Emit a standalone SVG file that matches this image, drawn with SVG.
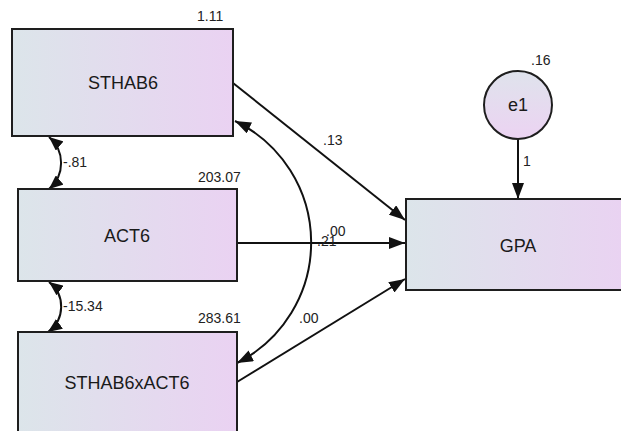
<svg xmlns="http://www.w3.org/2000/svg" width="621" height="431" viewBox="0 0 621 431">
  <style>
    .box { stroke: #1e1e1e; stroke-width: 2; fill: url(#gh); }
    .circ { stroke: #1e1e1e; stroke-width: 2; fill: url(#gv); }
    .nt { font-family: "Liberation Sans", Arial, sans-serif; font-size: 18px; fill: #1a1a1a; text-anchor: middle; }
    .lb { font-family: "Liberation Sans", Arial, sans-serif; font-size: 14px; fill: #222; }
    .ln { stroke: #111; stroke-width: 2; fill: none; }
  </style>
  <defs>
    <linearGradient id="gh" x1="0" y1="0" x2="1" y2="0">
      <stop offset="0" stop-color="#dce5ea"/>
      <stop offset="1" stop-color="#ead2f2"/>
    </linearGradient>
    <linearGradient id="gv" x1="0" y1="0" x2="0" y2="1">
      <stop offset="0" stop-color="#dfe3ec"/>
      <stop offset="1" stop-color="#ecd3f2"/>
    </linearGradient>
    <marker id="ah" markerUnits="userSpaceOnUse" markerWidth="18" markerHeight="12" refX="16" refY="6" orient="auto-start-reverse" viewBox="0 0 18 12">
      <path d="M0,0 L16,6 L0,12 Z" fill="#111"/>
    </marker>
    <marker id="as" markerUnits="userSpaceOnUse" markerWidth="16" markerHeight="12" refX="14" refY="6" orient="auto-start-reverse" viewBox="0 0 16 12">
      <path d="M0,0 L14,6 L0,12 Z" fill="#111"/>
    </marker>
  </defs>

  <g id="connectors">
    <path class="ln" d="M233,83 L405,220" marker-end="url(#ah)"/>
    <path class="ln" d="M237,243 L405,243" marker-end="url(#ah)"/>
    <path class="ln" d="M237,382 L405,279" marker-end="url(#ah)"/>
    <path class="ln" d="M518,139 L518,199" marker-end="url(#ah)"/>
    <path class="ln" d="M235,121 A135,135 0 0 1 237,363" marker-start="url(#ah)" marker-end="url(#ah)"/>
    <path class="ln" d="M49,137 A34,34 0 0 1 49,189" marker-start="url(#as)" marker-end="url(#as)"/>
    <path class="ln" d="M49,282 A31,31 0 0 1 48,332" marker-start="url(#as)" marker-end="url(#as)"/>
    <text class="lb" x="323" y="145">.13</text>
    <text class="lb" x="326" y="236">.00</text>
    <text class="lb" x="317" y="246">.21</text>
    <text class="lb" x="299" y="323">.00</text>
    <text class="lb" x="523" y="166">1</text>
    <text class="lb" x="63" y="167">-.81</text>
    <text class="lb" x="63" y="311">-15.34</text>
  </g>

  <g id="STHAB6">
    <rect class="box" x="12" y="29" width="221" height="107"/>
    <text class="nt" x="123" y="89">STHAB6</text>
    <text class="lb" x="197" y="21">1.11</text>
  </g>
  <g id="ACT6">
    <rect class="box" x="18" y="189" width="219" height="92"/>
    <text class="nt" x="127" y="242">ACT6</text>
    <text class="lb" x="198" y="182">203.07</text>
  </g>
  <g id="STHAB6xACT6">
    <rect class="box" x="18" y="332" width="219" height="110"/>
    <text class="nt" x="127" y="389">STHAB6xACT6</text>
    <text class="lb" x="198" y="323">283.61</text>
  </g>
  <g id="GPA">
    <rect class="box" x="406" y="199" width="225" height="91"/>
    <text class="nt" x="518" y="252">GPA</text>
  </g>
  <g id="e1">
    <circle class="circ" cx="518" cy="105" r="34"/>
    <text class="nt" x="518" y="111">e1</text>
    <text class="lb" x="531" y="65">.16</text>
  </g>
</svg>
